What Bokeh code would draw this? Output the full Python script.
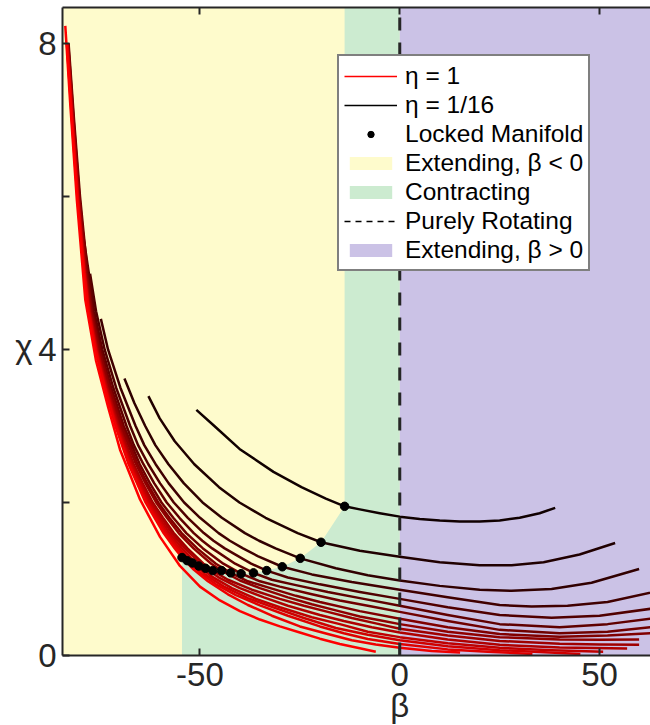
from bokeh.plotting import figure
from bokeh.models import Range1d, FixedTicker, LinearAxis, Legend, LegendItem, Label
from bokeh.embed import file_html
from bokeh.resources import INLINE

# ---------------- data ----------------
BETA_MIN, BETA_MAX = -84.4, 62.75
CHI_MAX = 8.47
rotating_beta = 0.0

eta_values = [1.0, 15/16, 14/16, 13/16, 12/16, 11/16, 10/16, 9/16,
              8/16, 7/16, 6/16, 5/16, 4/16, 3/16, 2/16, 1/16]

beta_1 = [-83.7, -82.5, -80.8, -78.7, -76.0, -73.0, -70.0, -65.0, -60.0, -55.0, -50.0, -45.0, -40.0, -35.0, -30.0, -25.0, -20.0, -15.0, -10.0, -6.0]
chi_1 = [8.23, 7.24, 5.95, 4.65, 3.85, 3.25, 2.69, 2.04, 1.55, 1.17, 0.90, 0.72, 0.58, 0.47, 0.38, 0.30, 0.22, 0.15, 0.095, 0.05]

beta_2 = [-83.31, -82.05, -80.70, -79.04, -77.92, -76.19, -73.85, -71.15, -67.85, -63.61, -59.11, -56.30, -54.5, -51.5, -48.0, -43.0, -38.0, -32.0, -25.0, -18.0, -12.0, -6.0, 0.0, 8.0, 15.1]
chi_2 = [8.0, 7.0, 6.0, 5.0, 4.5, 4.0, 3.5, 3.0, 2.5, 2.0, 1.6, 1.4, 1.28, 1.12, 0.97, 0.80, 0.66, 0.52, 0.38, 0.28, 0.20, 0.145, 0.10, 0.06, 0.04]

beta_3 = [-83.28, -82.0, -80.65, -78.97, -77.83, -76.08, -73.72, -70.98, -67.63, -63.29, -58.65, -55.72, -53.2, -50.0, -46.0, -41.0, -35.0, -28.0, -20.0, -14.0, -8.0, 0.0, 12.0, 22.0, 33.2]
chi_3 = [8.0, 7.0, 6.0, 5.0, 4.5, 4.0, 3.5, 3.0, 2.5, 2.0, 1.6, 1.4, 1.24, 1.08, 0.93, 0.79, 0.655, 0.52, 0.38, 0.29, 0.215, 0.15, 0.08, 0.05, 0.02]

beta_4 = [-83.25, -81.96, -80.59, -78.90, -77.75, -75.98, -73.59, -70.82, -67.41, -62.98, -58.21, -55.18, -51.9, -48.5, -44.0, -38.0, -32.0, -24.0, -16.0, -8.0, 0.0, 12.0, 25.0, 35.0, 45.2]
chi_4 = [8.0, 7.0, 6.0, 5.0, 4.5, 4.0, 3.5, 3.0, 2.5, 2.0, 1.6, 1.4, 1.21, 1.05, 0.90, 0.75, 0.635, 0.49, 0.36, 0.27, 0.20, 0.12, 0.07, 0.045, 0.02]

beta_5 = [-83.2, -81.91, -80.53, -78.81, -77.65, -75.85, -73.44, -70.62, -67.15, -62.6, -57.66, -54.5, -50.3, -47.0, -42.0, -36.0, -30.0, -22.0, -15.0, -8.0, 0.0, 12.0, 25.0, 38.0, 50.9]
chi_5 = [8.0, 7.0, 6.0, 5.0, 4.5, 4.0, 3.5, 3.0, 2.5, 2.0, 1.6, 1.4, 1.17, 1.03, 0.88, 0.74, 0.63, 0.50, 0.41, 0.31, 0.24, 0.16, 0.10, 0.07, 0.05]

beta_6 = [-83.16, -81.86, -80.46, -78.72, -77.53, -75.72, -73.27, -70.41, -66.86, -62.19, -57.08, -53.78, -48.6, -45.0, -40.0, -34.0, -28.0, -20.0, -14.0, -7.0, 0.0, 12.0, 25.0, 40.0, 56.9]
chi_6 = [8.0, 7.0, 6.0, 5.0, 4.5, 4.0, 3.5, 3.0, 2.5, 2.0, 1.6, 1.4, 1.14, 1.01, 0.88, 0.76, 0.65, 0.53, 0.45, 0.37, 0.30, 0.21, 0.14, 0.105, 0.09]

beta_7 = [-83.12, -81.81, -80.39, -78.63, -77.43, -75.6, -73.12, -70.21, -66.6, -64.33, -61.82, -59.27, -56.55, -53.13, -49.12, -46.8, -43.0, -37.0, -30.0, -24.0, -18.0, -12.0, -6.0, 0.0, 12.0, 25.0, 40.0, 50.0, 59.9]
chi_7 = [8.0, 7.0, 6.0, 5.0, 4.5, 4.0, 3.5, 3.0, 2.5, 2.25, 2.0, 1.8, 1.6, 1.4, 1.2, 1.11, 0.99, 0.86, 0.74, 0.65, 0.57, 0.49, 0.42, 0.35, 0.26, 0.19, 0.155, 0.145, 0.14]

beta_8 = [-83.03, -81.69, -80.25, -78.43, -77.2, -75.31, -72.77, -69.77, -66.0, -63.62, -60.96, -58.26, -55.33, -51.61, -47.18, -44.6, -40.0, -35.0, -28.0, -22.0, -16.0, -10.0, -5.0, 0.0, 12.0, 25.0, 40.0, 50.0, 59.9]
chi_8 = [8.0, 7.0, 6.0, 5.0, 4.5, 4.0, 3.5, 3.0, 2.5, 2.25, 2.0, 1.8, 1.6, 1.4, 1.2, 1.11, 0.98, 0.88, 0.76, 0.67, 0.59, 0.51, 0.46, 0.41, 0.31, 0.24, 0.21, 0.205, 0.21]

beta_9 = [-82.97, -81.62, -80.16, -78.31, -77.06, -75.14, -72.56, -69.5, -65.64, -63.19, -60.45, -57.65, -54.59, -50.7, -46.02, -42.3, -38.0, -33.0, -26.0, -20.0, -10.0, 0.0, 12.0, 25.0, 40.0, 52.0, 62.7, 64.0]
chi_9 = [8.0, 7.0, 6.0, 5.0, 4.5, 4.0, 3.5, 3.0, 2.5, 2.25, 2.0, 1.8, 1.6, 1.4, 1.2, 1.08, 0.97, 0.89, 0.78, 0.70, 0.58, 0.48, 0.37, 0.28, 0.245, 0.26, 0.29, 0.29]

beta_10 = [-82.88, -81.51, -80.02, -78.13, -76.84, -74.87, -72.22, -69.07, -65.07, -62.51, -59.63, -56.68, -53.42, -49.25, -44.16, -39.7, -35.0, -30.0, -22.0, -15.0, -7.0, 0.0, 12.0, 25.0, 40.0, 52.0, 62.7, 64.0]
chi_10 = [8.0, 7.0, 6.0, 5.0, 4.5, 4.0, 3.5, 3.0, 2.5, 2.25, 2.0, 1.8, 1.6, 1.4, 1.2, 1.07, 0.97, 0.90, 0.80, 0.72, 0.64, 0.57, 0.45, 0.335, 0.29, 0.31, 0.37, 0.38]

beta_11 = [-80.5, -77.82, -76.48, -74.44, -71.69, -68.38, -66.55, -64.15, -61.43, -58.32, -55.13, -51.55, -49.41, -46.94, -41.2, -36.6, -32.0, -26.0, -18.0, -9.0, 0.0, 12.0, 25.0, 40.0, 52.0, 62.7, 64.0]
chi_11 = [5.95, 5.0, 4.5, 4.0, 3.5, 3.0, 2.75, 2.5, 2.25, 2.0, 1.8, 1.6, 1.5, 1.4, 1.2, 1.08, 0.99, 0.92, 0.83, 0.74, 0.65, 0.53, 0.41, 0.37, 0.41, 0.48, 0.49]

beta_12 = [-77.5, -76.0, -73.86, -70.97, -67.46, -65.49, -62.92, -59.97, -56.55, -53.04, -49.03, -46.61, -43.81, -37.2, -33.3, -28.0, -20.0, -10.0, 0.0, 12.0, 25.0, 38.0, 50.0, 62.7, 64.0]
chi_12 = [4.99, 4.5, 4.0, 3.5, 3.0, 2.75, 2.5, 2.25, 2.0, 1.8, 1.6, 1.5, 1.4, 1.2, 1.11, 1.02, 0.93, 0.83, 0.74, 0.63, 0.53, 0.495, 0.52, 0.61, 0.62]

beta_13 = [-74.8, -73.01, -69.91, -66.11, -63.94, -61.1, -57.82, -53.96, -49.98, -45.33, -42.51, -39.23, -35.55, -29.4, -22.0, -12.0, 0.0, 12.0, 25.0, 33.0, 42.0, 52.0, 62.7, 64.0]
chi_13 = [4.4, 4.0, 3.5, 3.0, 2.75, 2.5, 2.25, 2.0, 1.8, 1.6, 1.5, 1.4, 1.3, 1.16, 1.06, 0.96, 0.86, 0.76, 0.66, 0.64, 0.65, 0.70, 0.82, 0.84]

beta_14 = [-68.9, -66.42, -63.7, -61.17, -57.88, -54.01, -49.35, -44.52, -38.74, -35.21, -31.08, -24.9, -16.0, -8.0, 0.0, 10.0, 20.0, 28.0, 38.0, 48.0, 59.9]
chi_14 = [3.62, 3.3, 3.0, 2.75, 2.5, 2.25, 2.0, 1.8, 1.6, 1.5, 1.4, 1.27, 1.14, 1.05, 0.98, 0.91, 0.86, 0.845, 0.87, 0.95, 1.13]

beta_15 = [-62.9, -60.07, -56.31, -51.41, -45.23, -40.11, -33.59, -25.55, -19.7, -10.0, 0.0, 10.0, 20.0, 28.0, 36.0, 45.0, 53.9]
chi_15 = [3.39, 3.1, 2.8, 2.5, 2.2, 2.0, 1.8, 1.6, 1.48, 1.37, 1.29, 1.22, 1.18, 1.18, 1.22, 1.32, 1.47]

beta_16 = [-50.9, -46.4, -40.1, -31.6, -24.6, -18.5, -13.8, -10.0, -5.0, 0.0, 5.0, 10.0, 15.0, 20.0, 25.0, 30.0, 35.0, 38.9]
chi_16 = [3.21, 3.0, 2.7, 2.4, 2.2, 2.05, 1.95, 1.91, 1.86, 1.815, 1.785, 1.765, 1.752, 1.752, 1.765, 1.80, 1.86, 1.93]

# locked manifold points (one per curve, eta = 15/16 ... 1/16)
lock_beta = [-54.5, -53.2, -51.9, -50.3, -48.6, -46.8, -44.6, -42.3, -39.7, -36.6, -33.3, -29.4, -24.9, -19.7, -13.8]
lock_chi = [1.28, 1.24, 1.21, 1.17, 1.14, 1.11, 1.11, 1.08, 1.07, 1.08, 1.11, 1.16, 1.27, 1.48, 1.95]

x_ticks = [-50, 0, 50]
x_tick_text = {-50: "-50", 0: "0", 50: "50"}
y_ticks = [0, 4, 8]
y_minor_ticks = [2, 6]

legend_labels = ["\u03b7 = 1", "\u03b7 = 1/16", "Locked Manifold", "Extending, \u03b2 < 0",
                 "Contracting", "Purely Rotating", "Extending, \u03b2 > 0"]

curve_betas = [beta_1, beta_2, beta_3, beta_4, beta_5, beta_6, beta_7, beta_8,
               beta_9, beta_10, beta_11, beta_12, beta_13, beta_14, beta_15, beta_16]
curve_chis = [chi_1, chi_2, chi_3, chi_4, chi_5, chi_6, chi_7, chi_8,
              chi_9, chi_10, chi_11, chi_12, chi_13, chi_14, chi_15, chi_16]

# ---------------- styles ----------------
YELLOW = "#FEFBCC"
GREEN = "#CCEBD0"
PURPLE = "#CBC2E6"
AXIS = "#262626"
FONT = "Liberation Sans"
NAN = float("nan")

def eta_color(eta):
    return "#%02x0000" % int(round(255 * eta))

p = figure(width=650, height=725,
           x_range=Range1d(BETA_MIN, BETA_MAX), y_range=Range1d(0, CHI_MAX),
           output_backend="svg", toolbar_location=None,
           min_border_left=62, min_border_right=0, min_border_top=7, min_border_bottom=68)
p.outline_line_color = None
p.grid.visible = False
p.background_fill_color = "white"
p.border_fill_color = "white"

# regions
r_yellow = p.varea(x=[BETA_MIN, rotating_beta], y1=[0, 0], y2=[CHI_MAX, CHI_MAX], fill_color=YELLOW)
green_x = [lock_beta[0]] + lock_beta + [lock_beta[-1], rotating_beta, rotating_beta]
green_y = [0] + lock_chi + [CHI_MAX, CHI_MAX, 0]
r_green = p.patch(x=green_x, y=green_y, fill_color=GREEN, line_color=None)
r_purple = p.varea(x=[rotating_beta, BETA_MAX], y1=[0, 0], y2=[CHI_MAX, CHI_MAX], fill_color=PURPLE)

# curves: darkest first so the red ones lie on top
for b, c, eta in reversed(list(zip(curve_betas, curve_chis, eta_values))):
    p.line(b, c, line_color=eta_color(eta), line_width=2.5, line_join="round")

# purely rotating line
r_rot = p.line([rotating_beta, rotating_beta], [0, CHI_MAX], line_color=AXIS,
               line_width=3, line_dash="13 12")

# locked manifold dots
p.scatter(lock_beta, lock_chi, size=8.5, fill_color="black", line_color="black")

# legend-only renderers (thin samples as in the reference legend; a NaN point is never drawn)
lg_red = p.line(x=[NAN], y=[NAN], line_color=eta_color(eta_values[0]), line_width=1.5)
lg_blk = p.line(x=[NAN], y=[NAN], line_color="black", line_width=1.5)
lg_dot = p.scatter(x=[NAN], y=[NAN], size=7.5, fill_color="black", line_color="black")
lg_rot = p.line(x=[NAN], y=[NAN], line_color="black", line_width=1.5, line_dash="6 5")

legend = Legend(items=[
    LegendItem(label=legend_labels[0], renderers=[lg_red]),
    LegendItem(label=legend_labels[1], renderers=[lg_blk]),
    LegendItem(label=legend_labels[2], renderers=[lg_dot]),
    LegendItem(label=legend_labels[3], renderers=[r_yellow]),
    LegendItem(label=legend_labels[4], renderers=[r_green]),
    LegendItem(label=legend_labels[5], renderers=[lg_rot]),
    LegendItem(label=legend_labels[6], renderers=[r_purple]),
], location=(275, 384))
legend.label_text_font = FONT
legend.label_text_font_size = "24.5px"
legend.label_text_color = "black"
legend.glyph_width = 53
legend.glyph_height = 16
legend.label_standoff = 8
legend.label_height = 29
legend.spacing = 0
legend.padding = 5
legend.margin = 0
legend.border_line_color = "black"
legend.border_line_width = 2
legend.background_fill_color = "white"
legend.background_fill_alpha = 1.0
p.add_layout(legend)

# axes
def style_axis(ax):
    ax.axis_line_color = AXIS
    ax.axis_line_width = 2
    ax.major_tick_line_color = AXIS
    ax.major_tick_line_width = 2
    ax.minor_tick_line_color = AXIS
    ax.minor_tick_line_width = 2
    ax.major_tick_in = 7
    ax.major_tick_out = 0
    ax.minor_tick_in = 7
    ax.minor_tick_out = 0
    ax.major_label_text_font = FONT
    ax.major_label_text_font_size = "33px"
    ax.major_label_text_color = AXIS

xa = p.xaxis[0]
xa.ticker = FixedTicker(ticks=x_ticks)
xa.major_label_overrides = x_tick_text
style_axis(xa)
xa.major_label_standoff = 7

ya = p.yaxis[0]
ya.ticker = FixedTicker(ticks=y_ticks, minor_ticks=y_minor_ticks)
style_axis(ya)
ya.major_label_standoff = 6

top = LinearAxis(ticker=FixedTicker(ticks=x_ticks))
style_axis(top)
top.major_label_text_font_size = "1px"
top.major_label_text_color = None
top.major_label_standoff = 0
p.add_layout(top, "above")

# axis titles placed at the reference positions (in the side panels, outside the frame)
p.add_layout(Label(x=rotating_beta, y=0, text="\u03b2", text_align="center", text_baseline="top",
                   y_offset=-31, text_font=FONT, text_font_size="33px", text_color=AXIS), "below")
p.add_layout(Label(x=BETA_MIN, y=4, text="\u03c7", text_align="right", text_baseline="middle",
                   x_offset=-30, y_offset=3, text_font=FONT, text_font_size="33px", text_color=AXIS), "left")

open("out.html", "w").write(file_html(p, INLINE))
